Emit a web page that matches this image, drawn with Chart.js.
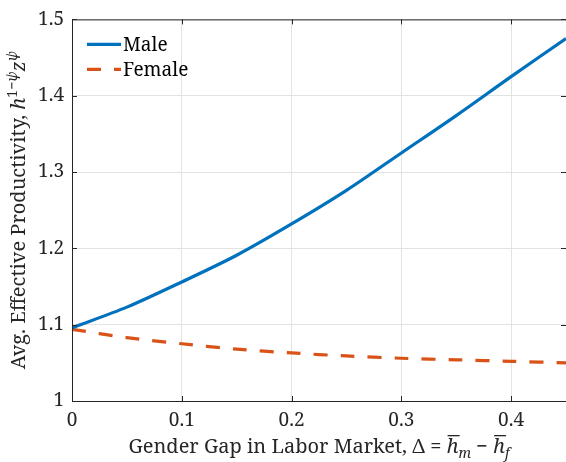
<!DOCTYPE html>
<html>
<head>
<meta charset="utf-8">
<script src="https://cdn.jsdelivr.net/npm/chart.js@4.4.1/dist/chart.umd.min.js"></script>
<style>
  html, body { margin: 0; padding: 0; background: #fff; }
  #wrap { width: 566px; height: 462px; }
</style>
</head>
<body>
<div id="wrap"><canvas id="c"></canvas></div>
<script>
// data
const gap = [0, 0.05, 0.10, 0.15, 0.20, 0.25, 0.30, 0.35, 0.40, 0.45];
const male = [1.096, 1.123, 1.156, 1.191, 1.232, 1.276, 1.325, 1.374, 1.425, 1.475];
const female = [1.094, 1.083, 1.075, 1.068, 1.063, 1.059, 1.056, 1.054, 1.052, 1.050];
const xTicks = [0, 0.1, 0.2, 0.3, 0.4];
const yTicks = [1, 1.1, 1.2, 1.3, 1.4, 1.5];

const FONT = '"Noto Serif", serif';
const AXIS = '#262626';
Chart.defaults.font.family = FONT;

// rich text: segments {t, i(talic), sup, sub, over}
function drawRich(ctx, segs, size) {
  const parts = segs.map(s => {
    const sz = (s.sup || s.sub) ? size * 0.7 : size;
    ctx.font = `${s.i ? 'italic ' : ''}${sz}px ${FONT}`;
    return { ...s, sz, w: ctx.measureText(s.t).width };
  });
  const total = parts.reduce((a, p) => a + p.w, 0);
  let x = -total / 2;
  for (const p of parts) {
    ctx.font = `${p.i ? 'italic ' : ''}${p.sz}px ${FONT}`;
    const dy = p.sup ? -size * 0.42 : p.sub ? size * 0.25 : 0;
    ctx.fillText(p.t, x, dy);
    if (p.over) {
      ctx.fillRect(x + 1, -size * 0.9, p.w, 1.3);
    }
    x += p.w;
  }
}

const extras = {
  id: 'extras',
  afterDraw(chart) {
    const { ctx, chartArea: a, scales } = chart;
    ctx.save();
    // box + inward ticks
    ctx.strokeStyle = AXIS;
    ctx.lineWidth = 1;
    ctx.beginPath();
    ctx.rect(a.left + 0.5, a.top + 0.5, a.right - a.left, a.bottom - a.top);
    xTicks.forEach(v => {
      const px = Math.round(scales.x.getPixelForValue(v)) + 0.5;
      ctx.moveTo(px, a.bottom); ctx.lineTo(px, a.bottom - 5);
      ctx.moveTo(px, a.top); ctx.lineTo(px, a.top + 5);
    });
    yTicks.forEach(v => {
      const py = Math.round(scales.y.getPixelForValue(v)) + 0.5;
      ctx.moveTo(a.left, py); ctx.lineTo(a.left + 5, py);
      ctx.moveTo(a.right, py); ctx.lineTo(a.right - 5, py);
    });
    ctx.stroke();

    // legend inside top-left
    ctx.textBaseline = 'middle';
    ctx.textAlign = 'left';
    chart.data.datasets.forEach((ds, k) => {
      const y = a.top + 25 + k * 25;
      ctx.strokeStyle = ds.borderColor;
      ctx.lineWidth = ds.borderWidth;
      ctx.setLineDash(ds.borderDash || []);
      ctx.beginPath();
      ctx.moveTo(a.left + 15, y); ctx.lineTo(a.left + 49, y);
      ctx.stroke();
      ctx.setLineDash([]);
      ctx.fillStyle = '#000';
      ctx.font = `19px ${FONT}`;
      ctx.fillText(ds.label, a.left + 51, y + 1);
    });

    // axis titles
    ctx.fillStyle = '#262626';
    ctx.textBaseline = 'alphabetic';
    ctx.save();
    ctx.translate((a.left + a.right) / 2, 453);
    drawRich(ctx, [
      { t: 'Gender Gap in Labor Market, \u0394 = ' },
      { t: 'h', i: true, over: true }, { t: 'm', i: true, sub: true },
      { t: ' \u2212 ' },
      { t: 'h', i: true, over: true }, { t: 'f', i: true, sub: true }
    ], 20);
    ctx.restore();
    ctx.save();
    ctx.translate(25, (a.top + a.bottom) / 2);
    ctx.rotate(-Math.PI / 2);
    drawRich(ctx, [
      { t: 'Avg. Effective Productivity, ' },
      { t: 'h', i: true }, { t: '1\u2212', sup: true }, { t: '\u03c8', i: true, sup: true },
      { t: 'z', i: true }, { t: '\u03c8', i: true, sup: true }
    ], 20);
    ctx.restore();
    ctx.restore();
  }
};

new Chart(document.getElementById('c'), {
  type: 'line',
  data: {
    labels: gap,
    datasets: [
      { label: 'Male', data: gap.map((x, i) => ({ x, y: male[i] })),
        borderColor: '#0072BD', borderWidth: 3.2, pointRadius: 0, tension: 0.3, fill: false },
      { label: 'Female', data: gap.map((x, i) => ({ x, y: female[i] })),
        borderColor: '#D95319', borderWidth: 3.2, borderDash: [14, 13], pointRadius: 0, tension: 0.3, fill: false }
    ]
  },
  plugins: [extras],
  options: {
    responsive: true,
    maintainAspectRatio: false,
    animation: false,
    layout: { padding: { top: 19, right: 0, left: 0, bottom: 0 } },
    plugins: { legend: { display: false }, tooltip: { enabled: false } },
    scales: {
      x: {
        type: 'linear', min: 0, max: 0.45,
        afterBuildTicks: s => { s.ticks = xTicks.map(v => ({ value: v })); },
        afterFit: s => { s.height = 61; },
        grid: { color: '#e3e3e3', drawTicks: false },
        border: { display: false },
        ticks: { padding: 8, color: '#262626', font: { family: FONT, size: 19 }, maxRotation: 0,
                 callback: v => v === 0 ? '0' : v.toFixed(1) }
      },
      y: {
        min: 1, max: 1.5,
        afterBuildTicks: s => { s.ticks = yTicks.map(v => ({ value: v })); },
        afterFit: s => { s.width = 72; },
        grid: { color: '#e3e3e3', drawTicks: false },
        border: { display: false },
        ticks: { padding: 8, color: '#262626', font: { family: FONT, size: 19 },
                 callback: v => (v === 1 ? '1' : v.toFixed(1)) }
      }
    }
  }
});
</script>
</body>
</html>
